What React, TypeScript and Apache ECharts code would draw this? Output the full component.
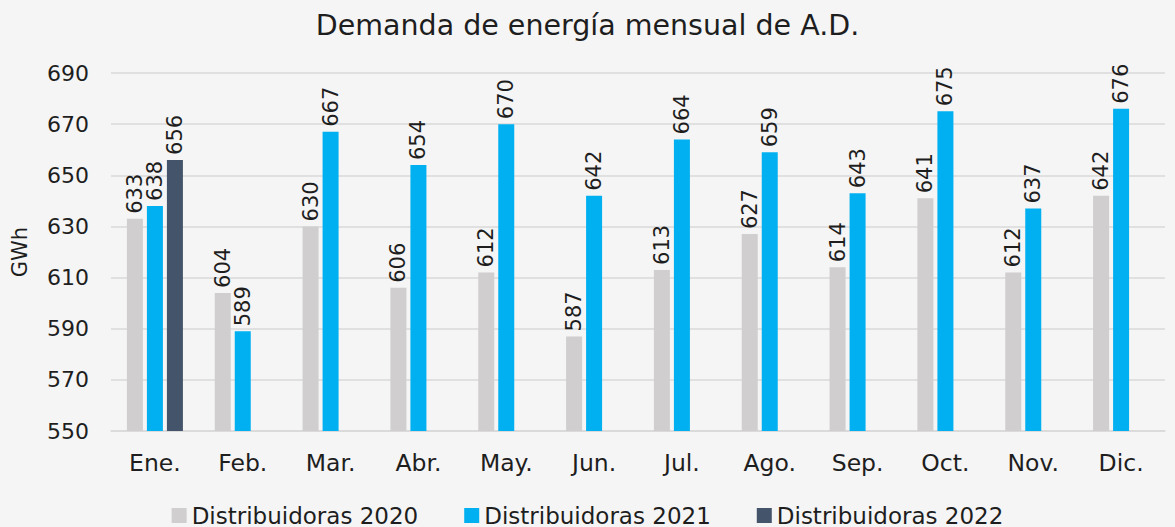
import React, { useEffect, useRef } from "react";
import * as echarts from "echarts";

const categories = ["Ene.", "Feb.", "Mar.", "Abr.", "May.", "Jun.", "Jul.", "Ago.", "Sep.", "Oct.", "Nov.", "Dic."];
const series2020 = [633, 604, 630, 606, 612, 587, 613, 627, 614, 641, 612, 642];
const series2021 = [638, 589, 667, 654, 670, 642, 664, 659, 643, 675, 637, 676];
const series2022 = [656, null, null, null, null, null, null, null, null, null, null, null];
const seriesNames = ["Distribuidoras 2020", "Distribuidoras 2021", "Distribuidoras 2022"];
const colors = ["#D0CECE", "#00B0F0", "#44546A"];

const FONT = "DejaVu Sans";
const TXT = "#1E1E1E";

export default function App() {
  const ref = useRef<HTMLDivElement>(null);
  useEffect(() => {
    document.body.style.margin = "0";
    const chart = echarts.init(ref.current!, null, { renderer: "svg" });
    const label = {
      show: true,
      position: "top",
      rotate: 90,
      align: "left",
      verticalAlign: "middle",
      distance: 5,
      fontSize: 21,
      fontFamily: FONT,
      color: TXT,
    };
    const mk = (name: string, data: (number | null)[], color: string) => ({
      name,
      type: "bar",
      data,
      barWidth: 16,
      barGap: "25%",
      itemStyle: { color },
      label,
    });
    chart.setOption({
      animation: false,
      backgroundColor: "#F5F5F5",
      color: colors,
      title: {
        text: "Demanda de energía mensual de A.D.",
        left: "center",
        top: 6,
        textStyle: { fontFamily: FONT, fontSize: 28.5, fontWeight: "normal", color: TXT },
      },
      legend: {
        top: 499,
        left: "center",
        itemWidth: 15,
        itemHeight: 15,
        itemGap: 46,
        icon: "rect",
        textStyle: { fontFamily: FONT, fontSize: 23, color: TXT },
        data: seriesNames,
      },
      grid: { left: 111, right: 10, top: 73, bottom: 96, containLabel: false, outerBoundsMode: "none" },
      xAxis: {
        type: "category",
        data: categories,
        axisLine: { lineStyle: { color: "#D9D9D9", width: 1.5 } },
        axisTick: { show: false },
        axisLabel: { fontFamily: FONT, fontSize: 23.5, color: TXT, margin: 20 },
      },
      yAxis: {
        type: "value",
        min: 550,
        max: 690,
        interval: 20,
        name: "GWh",
        nameLocation: "middle",
        nameGap: 81,
        nameTextStyle: { fontFamily: FONT, fontSize: 21, color: TXT },
        axisLabel: { fontFamily: FONT, fontSize: 22, color: TXT, margin: 22 },
        splitLine: { lineStyle: { color: "#D9D9D9", width: 1.5 } },
      },
      series: [
        mk(seriesNames[0], series2020, colors[0]),
        mk(seriesNames[1], series2021, colors[1]),
        mk(seriesNames[2], series2022, colors[2]),
      ],
    });
    return () => chart.dispose();
  }, []);
  return <div ref={ref} style={{ width: 1175, height: 527 }} />;
}
